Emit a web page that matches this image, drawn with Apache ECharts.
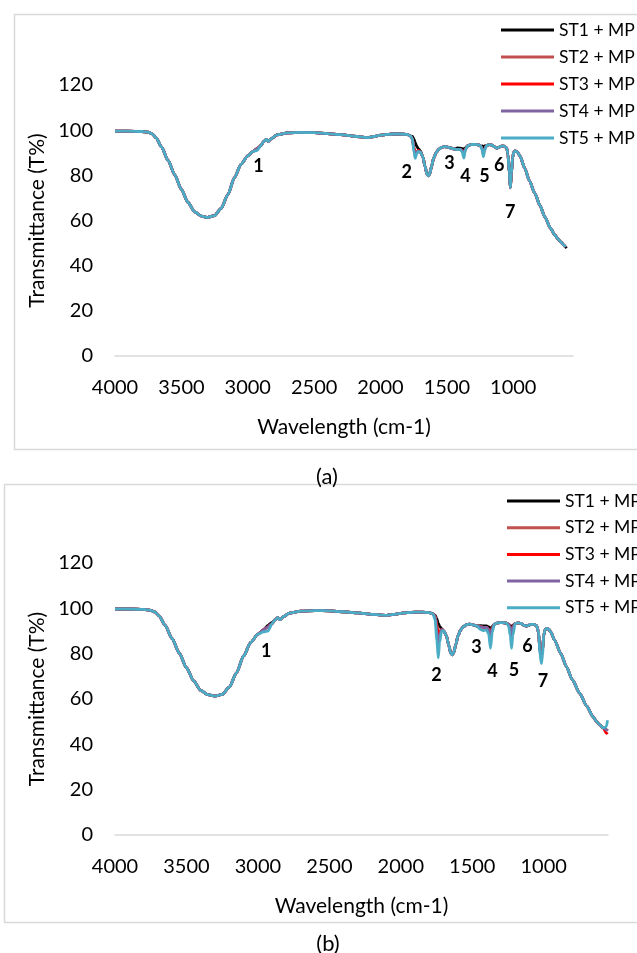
<!DOCTYPE html>
<html>
<head>
<meta charset="utf-8">
<title>FTIR ST + MP</title>
<script src="https://cdn.jsdelivr.net/npm/echarts@6/dist/echarts.min.js"></script>
<style>
    html, body { margin: 0; padding: 0; background: #fff; }
    #chart { width: 637px; height: 953px; }
</style>
</head>
<body>
<div id="chart"></div>
<script>
// series names / colours
var seriesNames = ['ST1 + MP', 'ST2 + MP', 'ST3 + MP', 'ST4 + MP', 'ST5 + MP'];
var seriesColors = ['#000000', '#c0504d', '#ff0000', '#8064a2', '#4bacc6'];
var xTickLabels = [4000, 3500, 3000, 2500, 2000, 1500, 1000];
var peakLabels = ['1', '2', '3', '4', '5', '6', '7'];

// panel (a) common spectrum [wavenumber, T%]
var baseA = [[4000,99.6],[3900,99.6],[3800,99.4],[3750,99.1],[3720,98.4],[3690,96.6],[3650,92.6],[3600,86.6],
    [3550,80.2],[3500,73.8],[3450,68.0],[3400,63.8],[3350,61.9],[3300,61.4],[3250,62.2],[3200,65.4],[3150,71.5],
    [3100,79.0],[3050,85.0],[3000,88.6],[2960,90.6],[2930,91.8],[2900,93.2],[2880,95.0],[2860,95.9],[2845,95.0],
    [2820,96.4],[2780,97.9],[2700,98.8],[2600,99.0],[2500,98.9],[2400,98.5],[2300,98.0],[2200,97.3],[2100,96.7],
    [2050,97.2],[2000,97.8],[1950,98.1],[1900,98.3],[1850,98.3],[1800,98.1],[1775,97.5],[1760,96.2],[1748,93.5],
    [1738,91.0],[1728,90.5],[1715,90.6],[1700,90.4],[1680,88.0],[1665,84.0],[1650,80.6],[1640,79.8],[1630,80.6],
    [1615,84.0],[1600,87.6],[1580,90.2],[1560,91.6],[1540,92.4],[1520,92.7],[1500,92.6],[1470,92.1],[1440,91.6],
    [1420,91.4],[1400,91.5],[1385,91.0],[1372,90.0],[1360,91.6],[1345,93.0],[1320,93.6],[1290,93.7],[1260,93.5],
    [1245,92.9],[1234,91.8],[1225,90.8],[1216,91.8],[1200,93.2],[1180,93.6],[1160,93.4],[1140,92.6],[1125,92.0],
    [1110,92.4],[1090,92.9],[1070,92.9],[1050,92.2],[1040,89.5],[1030,81.0],[1022,74.5],[1014,80.5],[1005,88.0],
    [995,90.4],[985,90.8],[970,90.4],[950,88.6],[912,83.0],[880,77.8],[837,72.0],[800,66.8],[762,61.6],[720,56.6],
    [687,53.6],[660,51.6],[642,50.5],[620,49.2],[607,48.3]];
// panel (a) points where a sample differs from the common curve
var st1A = [[1760,97.2],[1748,96.0],[1738,94.5],[1728,93.0],[1715,91.8],[1700,90.8],[1420,92.2],[1400,92.0],
    [1385,91.8],[1372,91.6],[1360,92.2],[1234,93.0],[1225,92.6],[1216,93.0],[598,47.8]];
var st2A = [[1748,92.5],[1738,89.8],[1728,90.2],[1372,89.5],[1225,90.0]];
var st3A = [[1760,96.0],[1748,92.0],[1738,89.8],[1728,90.4],[1715,91.0],[1372,89.8],[1225,89.5]];
var st4A = [[1748,91.5],[1738,89.0],[1372,89.0],[1225,89.5]];
var st5A = [[2930,91.0],[1748,90.0],[1738,87.5],[1728,89.5],[1715,90.5],[1385,90.4],[1372,87.6],[1360,91.2],
    [1234,91.0],[1225,88.2],[1216,91.0]];

// panel (b) common spectrum
var baseB = [[4000,99.7],[3900,99.7],[3800,99.5],[3750,99.1],[3720,98.4],[3690,96.6],[3650,92.6],[3600,86.6],
    [3550,80.2],[3500,73.8],[3450,68.0],[3400,63.8],[3350,61.9],[3300,61.3],[3250,62.0],[3200,65.2],[3150,71.5],
    [3100,79.0],[3050,85.0],[3000,88.6],[2960,90.6],[2930,91.8],[2900,93.2],[2880,95.0],[2860,95.9],[2845,95.0],
    [2820,96.4],[2780,97.9],[2700,98.8],[2600,99.0],[2500,98.9],[2400,98.5],[2300,98.0],[2200,97.3],[2100,96.9],
    [2050,97.3],[2000,97.8],[1950,98.1],[1900,98.3],[1850,98.3],[1800,98.1],[1775,97.5],[1760,96.5],[1748,93.0],
    [1738,90.0],[1728,90.0],[1715,90.6],[1700,90.2],[1680,87.8],[1665,83.8],[1650,80.2],[1640,79.5],[1630,80.4],
    [1615,84.0],[1600,87.8],[1580,90.6],[1560,92.0],[1540,92.8],[1520,93.0],[1500,92.8],[1470,92.2],[1440,91.8],
    [1420,91.6],[1400,91.6],[1385,90.8],[1372,89.0],[1360,91.5],[1345,93.0],[1320,93.6],[1290,93.7],[1260,93.5],
    [1245,92.9],[1234,91.8],[1225,89.5],[1216,91.8],[1200,93.2],[1180,93.6],[1160,93.4],[1140,92.6],[1125,92.2],
    [1110,92.4],[1090,92.9],[1070,92.9],[1050,92.4],[1036,89.5],[1026,81.0],[1016,79.0],[1008,81.5],[1000,88.0],
    [990,90.6],[978,91.2],[965,90.8],[950,89.5],[924,86.0],[880,80.0],[841,74.3],[800,68.5],[748,62.5],[700,57.0],
    [655,52.2],[630,50.0],[608,48.6],[585,47.3],[562,46.4],[553,46.0]];
var st1B = [[2930,92.5],[2900,93.8],[1760,97.0],[1748,95.5],[1738,93.5],[1728,92.0],[1715,91.0],[1440,92.4],
    [1420,92.2],[1400,92.2],[1385,91.8],[1372,91.0],[1360,92.0],[1234,92.5],[1225,91.5],[1216,92.5],[1016,81.0]];
var st2B = [[1738,89.5],[1372,89.0],[1225,89.5],[1016,79.5]];
var st3B = [[1748,92.0],[1738,88.0],[1728,89.5],[1372,88.0],[1225,89.0],[1016,79.0],[562,45.0],[553,44.5]];
var st4B = [[1748,90.0],[1738,84.0],[1728,88.0],[1372,85.5],[1225,86.0],[1016,77.5]];
var st5B = [[2960,89.6],[2930,90.0],[1760,95.0],[1748,86.0],[1738,78.2],[1728,85.0],[1715,89.8],[1440,90.6],
    [1420,90.2],[1400,90.5],[1385,88.5],[1372,82.4],[1360,89.5],[1245,92.0],[1234,88.0],[1225,82.3],[1216,88.0],
    [1026,80.0],[1016,75.6],[1008,79.5],[562,47.8],[553,50.6]];

// peak number positions [wavenumber, T%]
var peakPosA = [[2920,84.1],[1802,81.4],[1480,85.4],[1360,79.6],[1217,79.6],[1105,84.5],[1022,63.7]];
var peakPosB = [[2941,80.9],[1750,70.6],[1471,82.9],[1359,72.1],[1208,72.5],[1114,83.1],[1005,67.7]];

var fontName = 'Lato';

// merge sample points into the common curve
function mergeCurve(base, diff){
    var map = {};
    for(var i = 0; i < base.length; i++){
        map[base[i][0]] = base[i][1];
    }
    for(var j = 0; j < diff.length; j++){
        map[diff[j][0]] = diff[j][1];
    }
    var out = [];
    for(var k in map){
        out.push([Number(k), map[k]]);
    }
    out.sort(function(a, b){ return b[0] - a[0]; });
    return out;
}

function makeXAxis(idx){
    return {
        type: 'value',
        gridIndex: idx,
        inverse: true,
        min: 550,
        max: 4000,
        name: 'Wavelength (cm-1)',
        nameLocation: 'middle',
        nameGap: 61,
        nameTextStyle: { color: '#000', fontSize: 21, fontFamily: fontName },
        axisLine: { show: true, lineStyle: { color: '#d9d9d9', width: 1.5 } },
        axisTick: { show: false },
        splitLine: { show: false },
        axisLabel: {
            customValues: xTickLabels,
            formatter: function(v){ return String(v); },
            margin: 22,
            color: '#000',
            fontSize: 20,
            fontFamily: fontName
        }
    };
}

function makeYAxis(idx){
    return {
        type: 'value',
        gridIndex: idx,
        min: 0,
        max: 120,
        interval: 20,
        name: 'Transmittance (T%)',
        nameLocation: 'middle',
        nameGap: 67,
        nameTextStyle: { color: '#000', fontSize: 21, fontFamily: fontName },
        axisLine: { show: false },
        axisTick: { show: false },
        splitLine: { show: false },
        axisLabel: { margin: 22, color: '#000', fontSize: 20, fontFamily: fontName }
    };
}

function makeLegend(left, top, gap){
    return {
        data: seriesNames,
        orient: 'vertical',
        left: left,
        top: top,
        icon: 'rect',
        itemWidth: 53,
        itemHeight: 3,
        itemGap: gap,
        selectedMode: false,
        textStyle: { color: '#000', fontSize: 17.5, fontFamily: fontName, lineHeight: 20 }
    };
}

function peakMarks(pos){
    var arr = [];
    for(var i = 0; i < pos.length; i++){
        arr.push({ name: peakLabels[i], coord: pos[i] });
    }
    return {
        symbol: 'circle',
        symbolSize: 0,
        silent: true,
        label: {
            show: true,
            position: 'inside',
            formatter: '{b}',
            color: '#000',
            fontSize: 18,
            fontWeight: 'bold',
            fontFamily: fontName
        },
        data: arr
    };
}

var diffsA = [st1A, st2A, st3A, st4A, st5A];
var diffsB = [st1B, st2B, st3B, st4B, st5B];
var series = [];
for(var p = 0; p < 2; p++){
    var base = p === 0 ? baseA : baseB;
    var diffs = p === 0 ? diffsA : diffsB;
    for(var s = 0; s < seriesNames.length; s++){
        var se = {
            name: seriesNames[s],
            type: 'line',
            xAxisIndex: p,
            yAxisIndex: p,
            data: mergeCurve(base, diffs[s]),
            showSymbol: false,
            symbol: 'none',
            smooth: 0.25,
            smoothMonotone: 'x',
            color: seriesColors[s],
            lineStyle: { color: seriesColors[s], width: 2.8 },
            animation: false,
            z: 2 + s
        };
        if(s === seriesNames.length - 1){
            se.markPoint = peakMarks(p === 0 ? peakPosA : peakPosB);
        }
        series.push(se);
    }
}

var myChart = echarts.init(document.getElementById('chart'), null, { renderer: 'canvas' });
var option = {
    backgroundColor: '#fff',
    animation: false,
    grid: [
        { left: 115, top: 85, width: 458, height: 271, containLabel: false, outerBoundsMode: 'none' },
        { left: 115, top: 563, width: 493, height: 272, containLabel: false, outerBoundsMode: 'none' }
    ],
    legend: [makeLegend(496, 15, 7), makeLegend(502, 486, 6.7)],
    xAxis: [makeXAxis(0), makeXAxis(1)],
    yAxis: [makeYAxis(0), makeYAxis(1)],
    graphic: [
        //外框
        { type: 'rect', left: 12, top: 12, shape: { width: 700, height: 435 }, style: { fill: 'none', stroke: '#d9d9d9', lineWidth: 1.5 }, silent: true },
        { type: 'rect', left: 2, top: 482, shape: { width: 700, height: 438 }, style: { fill: 'none', stroke: '#d9d9d9', lineWidth: 1.5 }, silent: true },
        { type: 'text', x: 327, y: 477, style: { text: '(a)', fill: '#000', fontSize: 22, fontFamily: fontName, align: 'center', verticalAlign: 'middle' } },
        { type: 'text', x: 328, y: 944, style: { text: '(b)', fill: '#000', fontSize: 22, fontFamily: fontName, align: 'center', verticalAlign: 'middle' } }
    ],
    series: series
};
myChart.setOption(option);
</script>
</body>
</html>
